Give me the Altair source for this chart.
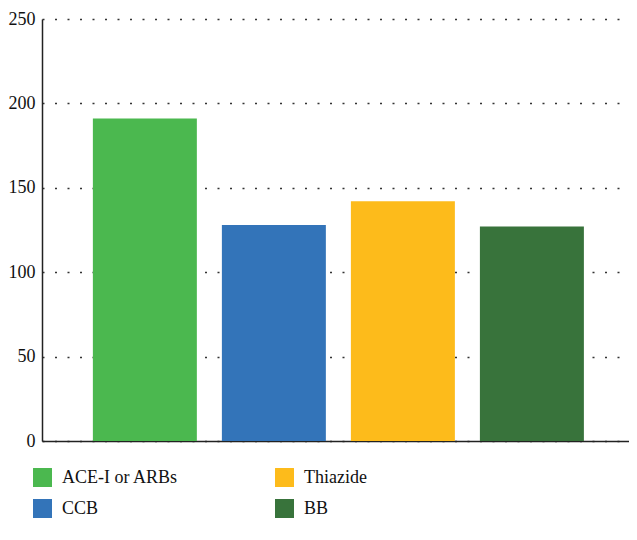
import altair as alt
import pandas as pd

categories = ["ACE-I or ARBs", "CCB", "Thiazide", "BB"]
values = [191, 128, 142, 127]
colors = ["#4bb84f", "#3374b9", "#fdbb1b", "#38733b"]
y_ticks = [0, 50, 100, 150, 200, 250]

df = pd.DataFrame({"drug": categories, "value": values})

font = "Liberation Serif"

chart = alt.Chart(df).mark_bar().encode(
    x=alt.X("drug:N", sort=categories, title=None,
            scale=alt.Scale(paddingInner=0.194, paddingOuter=0.372, align=0.53),
            axis=alt.Axis(labels=False, ticks=False, domainColor="#222222",
                          domainWidth=1.5, grid=False)),
    y=alt.Y("value:Q", title=None,
            scale=alt.Scale(domain=[0, 250], nice=False),
            axis=alt.Axis(values=y_ticks, ticks=False, labelPadding=7,
                          labelFont=font, labelFontSize=18, labelColor="#111111",
                          domainColor="#222222", domainWidth=1.5,
                          grid=True, gridDash=[2, 10.5], gridColor="#333333",
                          gridWidth=1.5)),
    color=alt.Color("drug:N", title=None,
                    scale=alt.Scale(domain=categories, range=colors),
                    legend=alt.Legend(orient="none", legendX=-9, legendY=449,
                                      columns=2, columnPadding=97, rowPadding=12,
                                      symbolType="square", symbolSize=360,
                                      symbolStrokeWidth=0, labelFont=font,
                                      labelFontSize=18, labelColor="#111111",
                                      labelOffset=10, labelLimit=300)),
).properties(
    width=587, height=422,
    autosize=alt.AutoSizeParams(type="none"),
    padding={"left": 34, "top": 11, "right": 0, "bottom": 91},
).configure_view(stroke=None)

chart.save("out.html", embed_options={"renderer": "svg", "actions": False})
